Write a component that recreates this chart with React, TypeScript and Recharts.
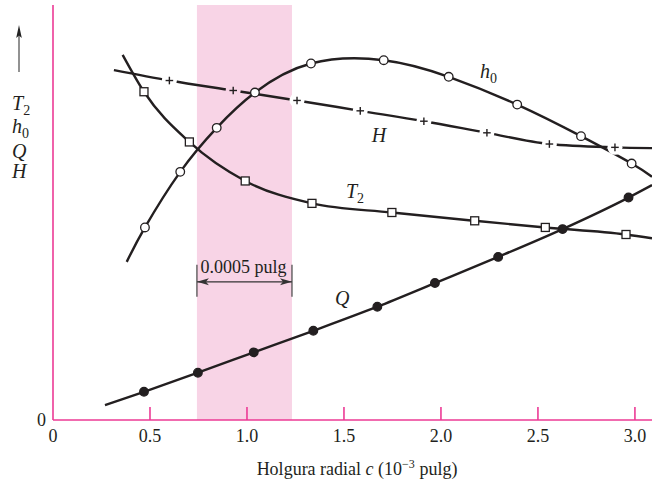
import React from 'react';
import {
  ComposedChart,
  Line,
  XAxis,
  YAxis,
  ReferenceArea,
  ReferenceLine,
  ReferenceDot,
} from 'recharts';

document.body.style.margin = '0';

const SERIF = '"Liberation Serif", "Times New Roman", serif';
const INK = '#231f20';
const PINK = '#ec3a95';
const BAND_FILL = '#f8d4e6';

// radial clearance c (1e-3 in) and relative curve heights (0-100)
// first and last entries are curve ends without a marker
const H_C = [0.314, 0.6, 0.929, 1.258, 1.584, 1.912, 2.237, 2.559, 2.897, 3.088];
const H_V = [84.3, 81.8, 79.4, 77.0, 74.5, 72.0, 69.2, 66.5, 65.7, 65.5];

const T2_C = [0.359, 0.469, 0.703, 0.991, 1.335, 1.747, 2.174, 2.538, 2.954, 3.088];
const T2_V = [88.0, 79.1, 67.0, 57.6, 52.2, 50.0, 48.0, 46.4, 44.7, 43.8];

const H0_C = [0.38, 0.474, 0.656, 0.844, 1.041, 1.33, 1.705, 2.04, 2.393, 2.722, 2.983, 3.088];
const H0_V = [38.1, 46.4, 59.8, 70.4, 78.9, 85.9, 86.7, 82.7, 76.0, 68.4, 61.8, 58.6];

const Q_C = [0.268, 0.469, 0.747, 1.035, 1.342, 1.672, 1.969, 2.295, 2.627, 2.967, 3.088];
const Q_V = [3.6, 6.8, 11.4, 16.3, 21.5, 27.3, 33.0, 39.3, 46.0, 53.6, 56.6];

const X_TICKS = [0, 0.5, 1.0, 1.5, 2.0, 2.5, 3.0];
const X_TICK_LABELS = ['0', '0.5', '1.0', '1.5', '2.0', '2.5', '3.0'];
const X_MAX = 3.088;

// optimum clearance band (0.0005 in wide)
const BAND = [0.742, 1.232];
const DIM_Y = 33.3;

const zip = (cs: number[], vs: number[]) => cs.map((c, i) => ({ c, v: vs[i] }));
const hData = zip(H_C, H_V);
const t2Data = zip(T2_C, T2_V);
const h0Data = zip(H0_C, H0_V);
const qData = zip(Q_C, Q_V);

const isEnd = (i: number, len: number) => i === 0 || i === len - 1;

function XTick({ x, y, payload }: any) {
  const idx = X_TICKS.indexOf(payload.value);
  const label = idx >= 0 ? X_TICK_LABELS[idx] : String(payload.value);
  return (
    <g>
      {payload.value !== 0 && (
        <line x1={x} x2={x} y1={y} y2={y - 13} stroke={PINK} strokeWidth={1.6} />
      )}
      <text x={x} y={y + 22} textAnchor="middle" fontFamily={SERIF} fontSize={18} fill={INK}>
        {label}
      </text>
    </g>
  );
}

const circleDot = (filled: boolean, len: number) => (p: any) =>
  isEnd(p.index, len) ? (
    <g key={`c${p.index}`} />
  ) : (
    <circle
      key={`c${p.index}`}
      cx={p.cx}
      cy={p.cy}
      r={4.3}
      fill={filled ? INK : '#fff'}
      stroke={INK}
      strokeWidth={1.3}
    />
  );

const squareDot = (len: number) => (p: any) =>
  isEnd(p.index, len) ? (
    <g key={`s${p.index}`} />
  ) : (
    <rect
      key={`s${p.index}`}
      x={p.cx - 4}
      y={p.cy - 4}
      width={8}
      height={8}
      fill="#fff"
      stroke={INK}
      strokeWidth={1.3}
    />
  );

// the H curve is broken around each "+" marker
const plusDot = (len: number) => (p: any) => {
  if (isEnd(p.index, len)) return <g key={`p${p.index}`} />;
  const c = p.payload.c;
  const bg = c >= BAND[0] && c <= BAND[1] ? BAND_FILL : '#fff';
  return (
    <g key={`p${p.index}`}>
      <circle cx={p.cx} cy={p.cy} r={7.5} fill={bg} />
      <line x1={p.cx - 3.8} x2={p.cx + 3.8} y1={p.cy} y2={p.cy} stroke={INK} strokeWidth={1.4} />
      <line x1={p.cx} x2={p.cx} y1={p.cy - 3.8} y2={p.cy + 3.8} stroke={INK} strokeWidth={1.4} />
    </g>
  );
};

const curveLabel = (main: string, sub?: string) => (p: any) => (
  <text x={p.cx} y={p.cy} fontFamily={SERIF} fontStyle="italic" fontSize={20} fill={INK}>
    {main}
    {sub && (
      <tspan fontStyle="normal" fontSize={14} dy={5}>
        {sub}
      </tspan>
    )}
  </text>
);

const dimEnd = (dir: number) => (p: any) => (
  <g>
    <line x1={p.cx} x2={p.cx} y1={p.cy - 17} y2={p.cy + 15} stroke="#444" strokeWidth={1.2} />
    <path
      d={`M${p.cx},${p.cy} L${p.cx - dir * 12},${p.cy - 3.5} L${p.cx - dir * 9},${p.cy} L${p.cx - dir * 12},${p.cy + 3.5} Z`}
      fill="#333"
    />
  </g>
);

const dimText = (p: any) => (
  <text x={p.cx} y={p.cy} fontFamily={SERIF} fontSize={18} fill={INK}>
    0.0005 pulg
  </text>
);

const LEGEND = [
  { main: 'T', sub: '2', y: 110 },
  { main: 'h', sub: '0', y: 133 },
  { main: 'Q', sub: '', y: 158 },
  { main: 'H', sub: '', y: 178 },
];

export default function App() {
  return (
    <div style={{ position: 'relative', width: 652, height: 482, background: '#fff' }}>
      <ComposedChart width={652} height={482} margin={{ top: 5, right: 0, bottom: 0, left: 0 }}>
        <ReferenceArea
          x1={BAND[0]}
          x2={BAND[1]}
          y1={0}
          y2={100}
          fill={BAND_FILL}
          fillOpacity={1}
          stroke="none"
        />
        <XAxis
          type="number"
          dataKey="c"
          domain={[0, X_MAX]}
          ticks={X_TICKS}
          interval={0}
          allowDataOverflow
          height={62}
          tickLine={false}
          tickSize={0}
          tickMargin={0}
          tick={<XTick />}
          axisLine={{ stroke: PINK, strokeWidth: 1.6 }}
        />
        <YAxis
          type="number"
          domain={[0, 100]}
          ticks={[0]}
          width={53}
          tickLine={false}
          tickSize={0}
          tickMargin={7}
          tick={{ fontFamily: SERIF, fontSize: 18, fill: INK }}
          axisLine={{ stroke: PINK, strokeWidth: 1.6 }}
        />
        <Line
          data={hData}
          dataKey="v"
          type="monotone"
          stroke={INK}
          strokeWidth={2.4}
          dot={plusDot(hData.length)}
          activeDot={false}
          isAnimationActive={false}
        />
        <Line
          data={t2Data}
          dataKey="v"
          type="monotone"
          stroke={INK}
          strokeWidth={2.4}
          dot={squareDot(t2Data.length)}
          activeDot={false}
          isAnimationActive={false}
        />
        <Line
          data={h0Data}
          dataKey="v"
          type="natural"
          stroke={INK}
          strokeWidth={2.4}
          dot={circleDot(false, h0Data.length)}
          activeDot={false}
          isAnimationActive={false}
        />
        <Line
          data={qData}
          dataKey="v"
          type="monotone"
          stroke={INK}
          strokeWidth={2.4}
          dot={circleDot(true, qData.length)}
          activeDot={false}
          isAnimationActive={false}
        />
        <ReferenceLine
          segment={[
            { x: BAND[0], y: DIM_Y },
            { x: BAND[1], y: DIM_Y },
          ]}
          stroke="#333"
          strokeWidth={1.2}
        />
        <ReferenceDot x={BAND[0]} y={DIM_Y} shape={dimEnd(-1)} />
        <ReferenceDot x={BAND[1]} y={DIM_Y} shape={dimEnd(1)} />
        <ReferenceDot x={0.761} y={35.35} shape={dimText} />
        <ReferenceDot x={2.201} y={82.4} shape={curveLabel('h', '0')} />
        <ReferenceDot x={1.643} y={67.1} shape={curveLabel('H')} />
        <ReferenceDot x={1.51} y={53.5} shape={curveLabel('T', '2')} />
        <ReferenceDot x={1.454} y={27.7} shape={curveLabel('Q')} />
      </ComposedChart>
      <svg
        width={652}
        height={482}
        style={{ position: 'absolute', left: 0, top: 0, pointerEvents: 'none' }}
      >
        <line x1={19} x2={19} y1={72} y2={34} stroke="#777" strokeWidth={1.6} />
        <path d="M19,25 L16.2,38 L19,35.5 L21.8,38 Z" fill="#222" />
        {LEGEND.map((l) => (
          <text key={l.main} x={12} y={l.y} fontFamily={SERIF} fontStyle="italic" fontSize={20} fill={INK}>
            {l.main}
            {l.sub && (
              <tspan fontStyle="normal" fontSize={14} dy={5}>
                {l.sub}
              </tspan>
            )}
          </text>
        ))}
        <text x={357} y={475} textAnchor="middle" fontFamily={SERIF} fontSize={18} fill={INK}>
          Holgura radial <tspan fontStyle="italic">c</tspan> (10
          <tspan fontSize={12} dy={-7}>
            −3
          </tspan>
          <tspan dy={7}> pulg)</tspan>
        </text>
      </svg>
    </div>
  );
}
